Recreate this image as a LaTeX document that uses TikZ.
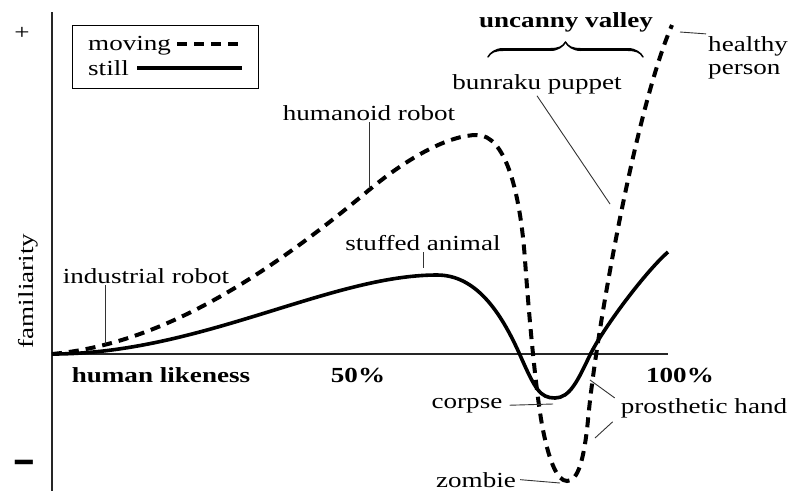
\documentclass[tikz,border=0pt]{standalone}
\usepackage{fontspec}
\setmainfont{Liberation Serif}[FakeStretch=1.26]
\usetikzlibrary{decorations.pathreplacing,calligraphy}

\begin{document}
\begin{tikzpicture}[x=1pt,y=-1pt,
	lbl/.style={font=\fontsize{21.5}{23}\selectfont, inner sep=2pt},
	boldlbl/.style={lbl, font=\fontsize{21.5}{23}\selectfont\bfseries},
	leader/.style={line width=0.9pt, black!80},
	axis/.style={line width=1.1pt, black!85},
	moving/.style={line width=4pt, dash pattern=on 10pt off 7pt},
	still/.style={line width=3.6pt}]
	\useasboundingbox (0,0) rectangle (792,491);
	% axes
	\draw [axis] (52,12) -- (52,491);
	\draw [axis] (52,354) -- (668,354);
	\node [lbl] (plus) at (22,33) {+};
	\node [boldlbl] (minus) at (24,469) {\scalebox{1.3}[3]{--}};
	\node [lbl, rotate=90, anchor=base] (familiarity) at (33,291) {familiarity};
	\node [boldlbl, anchor=base] (likeness) at (161,382) {human likeness};
	\node [boldlbl, anchor=base] (half) at (358,382) {50\%};
	\node [boldlbl, anchor=base] (full) at (680,382) {100\%};
	% legend
	\draw [line width=0.9pt] (72,25) rectangle (258,88);
	\node [lbl, anchor=base west] (movinglbl) at (86,50) {moving};
	\node [lbl, anchor=base west] (stilllbl) at (86,75) {still};
	\draw [moving] (177,44) -- (242,44);
	\draw [still] (137,68) -- (242,68);
	% curves
	\draw [moving] (52,354) .. controls (150,345) and (250,290) .. (369,190)
		.. controls (410,156) and (450,135) .. (477,135)
		.. controls (505,135) and (520,190) .. (525,260)
		.. controls (530,330) and (537,400) .. (543,430)
		.. controls (549,460) and (557,481) .. (567,481)
		.. controls (578,481) and (584,460) .. (588,420)
		.. controls (595,340) and (635,110) .. (672,25);
	\draw [still] (52,354) .. controls (200,354) and (330,275) .. (437,275)
		.. controls (475,275) and (500,310) .. (520,355)
		.. controls (535,389) and (540,398) .. (555,398)
		.. controls (570,398) and (578,380) .. (590,355)
		.. controls (602,330) and (645,272) .. (668,252);
	% uncanny valley
	\node [boldlbl, anchor=base] (valley) at (566,27) {uncanny valley};
	\draw [decorate, decoration={calligraphic brace, amplitude=15pt}, line width=3pt, heavy line width=3.5pt, light line width=1pt, pen colour={black}] (488,57) -- (643,57);
	% labels on the curves
	\node [lbl, anchor=base] (industrial) at (146,283) {industrial robot};
	\coordinate (industrialpt) at (105,344);
	\draw [leader] (industrial.south -| industrialpt) -- (industrialpt);
	\node [lbl, anchor=base] (humanoid) at (369,120) {humanoid robot};
	\coordinate (humanoidpt) at (369,188);
	\draw [leader] (humanoid.south) -- (humanoidpt);
	\node [lbl, anchor=base] (stuffed) at (423,250) {stuffed animal};
	\coordinate (stuffedpt) at (423,268);
	\draw [leader] (stuffed.south) -- (stuffedpt);
	\node [lbl, anchor=base] (bunraku) at (537,89) {bunraku puppet};
	\coordinate (bunrakupt) at (610,204);
	\draw [leader] (bunraku.south) -- (bunrakupt);
	\node [lbl, anchor=base west, align=left] (healthy) at (706,74) {healthy\\person};
	\coordinate (healthypt) at (680,32);
	\draw [leader] (healthy.north west) -- (healthypt);
	\node [lbl, anchor=base] (corpse) at (467,408) {corpse};
	\coordinate (corpsept) at (553,404);
	\draw [leader] ([xshift=5pt]corpse.east) -- (corpsept);
	\node [lbl, anchor=base] (zombie) at (476,487) {zombie};
	\coordinate (zombiept) at (560,483);
	\draw [leader] ([xshift=2pt]zombie.east) -- (zombiept);
	\node [lbl, anchor=base] (prosthetic) at (704,413) {prosthetic hand};
	\coordinate (stillhand) at (590,380);
	\coordinate (movinghand) at (595,438);
	\draw [leader] ([xshift=-4pt,yshift=-2pt]prosthetic.north west) -- (stillhand);
	\draw [leader] ([xshift=-6pt,yshift=-2pt]prosthetic.south west) -- (movinghand);
\end{tikzpicture}
\end{document}
